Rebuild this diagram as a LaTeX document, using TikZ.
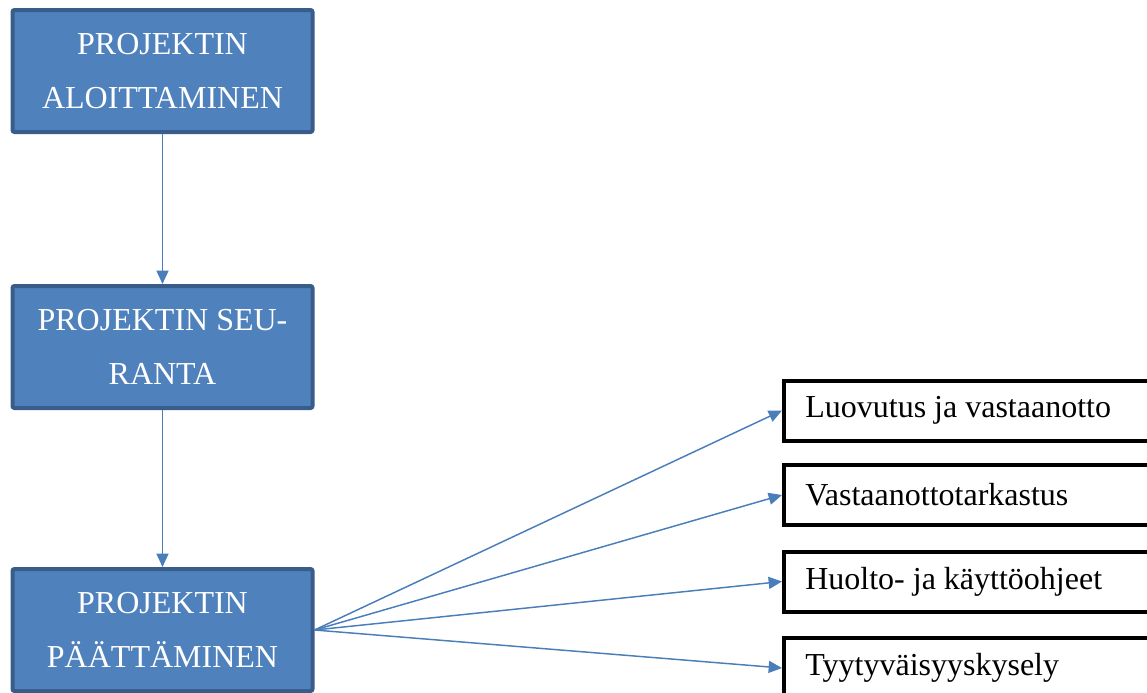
\documentclass[tikz,border=0pt]{standalone}
\usepackage{fontspec}
\setmainfont{Liberation Serif}
\usepackage{tikz}
\usetikzlibrary{arrows.meta,positioning}
\definecolor{phasefill}{RGB}{79,129,189}
\definecolor{phaseline}{RGB}{56,93,138}
\definecolor{flowline}{RGB}{74,126,187}

\begin{document}
\begin{tikzpicture}[x=0.75pt,y=-0.75pt,
    phase/.style={draw=phaseline,fill=phasefill,line width=3pt,rounded corners=1.5pt,
      minimum width=225pt,minimum height=91.5pt,align=center,text=white,
      font=\fontsize{24}{40.5}\selectfont},
    task/.style={draw=black,line width=3pt,anchor=west,inner xsep=16pt,
      text width=250pt,minimum height=45pt,align=flush left,
      font=\fontsize{24}{28}\selectfont},
    flow/.style={draw=flowline,line width=1.1pt,-{Triangle[length=10pt,width=9pt]}}]
  \useasboundingbox (0,0) rectangle (1147,693);
  % vaiheet
  \node[phase] (aloitus) at (162.5,71) {PROJEKTIN\\ALOITTAMINEN};
  \node[phase] (seuranta) at (162.5,347) {PROJEKTIN SEU-\\RANTA};
  \node[phase] (paatos) at (162.5,630) {PROJEKTIN\\PÄÄTTÄMINEN};
  % päättämisen osat
  \node[task] (luovutus) at (782,410.5) {Luovutus ja vastaanotto};
  \node[task] (tarkastus) at (782,495) {Vastaanottotarkastus};
  \node[task] (ohjeet) at (782,581.5) {Huolto- ja käyttöohjeet};
  \node[task] (kysely) at (782,668) {Tyytyväisyyskysely};
  \draw[flow] (aloitus) -- (seuranta);
  \draw[flow] (seuranta) -- (paatos);
  \foreach \osa in {luovutus,tarkastus,ohjeet,kysely}
    \draw[flow] (paatos.east) -- (\osa.west);
\end{tikzpicture}
\end{document}
